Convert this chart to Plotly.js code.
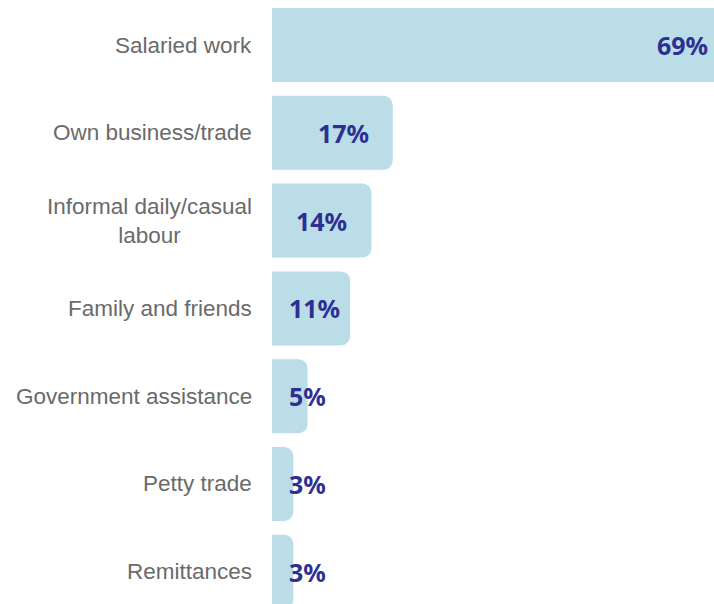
<!DOCTYPE html>
<html>
<head>
<meta charset="utf-8">
<script src="https://cdn.plot.ly/plotly-3.0.1.min.js"></script>
<style>html,body{margin:0;padding:0;background:#fff;}#chart{width:714px;height:604px;}</style>
</head>
<body>
<div id="chart"></div>
<script>
const categories = ["Salaried work", "Own business/trade", "Informal daily/casual<br>labour", "Family and friends", "Government assistance", "Petty trade", "Remittances"];
const values = [69, 17, 14, 11, 5, 3, 3];
const valueLabels = ["69%", "17%", "14%", "11%", "5%", "3%", "3%"];

const W = 714, H = 604, L = 272;
const plotW = W - L;
const xmax = 62.25;
const ppu = plotW / xmax;
const barColor = "#badde8";
const valueColor = "#2e2f93";
const labelColor = "#6a6a6a";

const annotations = [];
categories.forEach((c, i) => {
  annotations.push({
    xref: "paper", yref: "y", x: 0, y: c, xanchor: "right", yanchor: "middle",
    xshift: -18, text: c, showarrow: false, align: "center",
    font: {family: "'Liberation Sans', Arial, sans-serif", size: 22.5, color: labelColor}
  });
  const v = values[i];
  const textW = 54;
  let a = {xref: "x", yref: "y", y: c, yanchor: "middle", showarrow: false, text: valueLabels[i],
    font: {family: "'Noto Sans', 'Liberation Sans', sans-serif", size: 25, color: valueColor, weight: 700}};
  if (v > xmax) { a.x = xmax; a.xanchor = "right"; a.xshift = -4; }
  else if (v * ppu - 24 - textW >= 17) { a.x = v; a.xanchor = "right"; a.xshift = -22; }
  else { a.x = 0; a.xanchor = "left"; a.xshift = 15; }
  annotations.push(a);
});

const trace = {
  type: "bar", orientation: "h", x: values, y: categories,
  marker: {color: barColor, cornerradius: 9},
  hoverinfo: "none"
};

const layout = {
  width: W, height: H,
  margin: {l: L, r: 0, t: 0, b: 0, pad: 0},
  paper_bgcolor: "#ffffff", plot_bgcolor: "#ffffff",
  bargap: 0.157,
  showlegend: false,
  xaxis: {range: [0, xmax], visible: false, fixedrange: true},
  yaxis: {type: "category", range: [6.367, -0.5125], autorange: false, showticklabels: false,
    showgrid: false, zeroline: false, showline: false, ticks: ""},
  annotations: annotations
};

Plotly.newPlot("chart", [trace], layout, {displayModeBar: false, staticPlot: true});
</script>
</body>
</html>
